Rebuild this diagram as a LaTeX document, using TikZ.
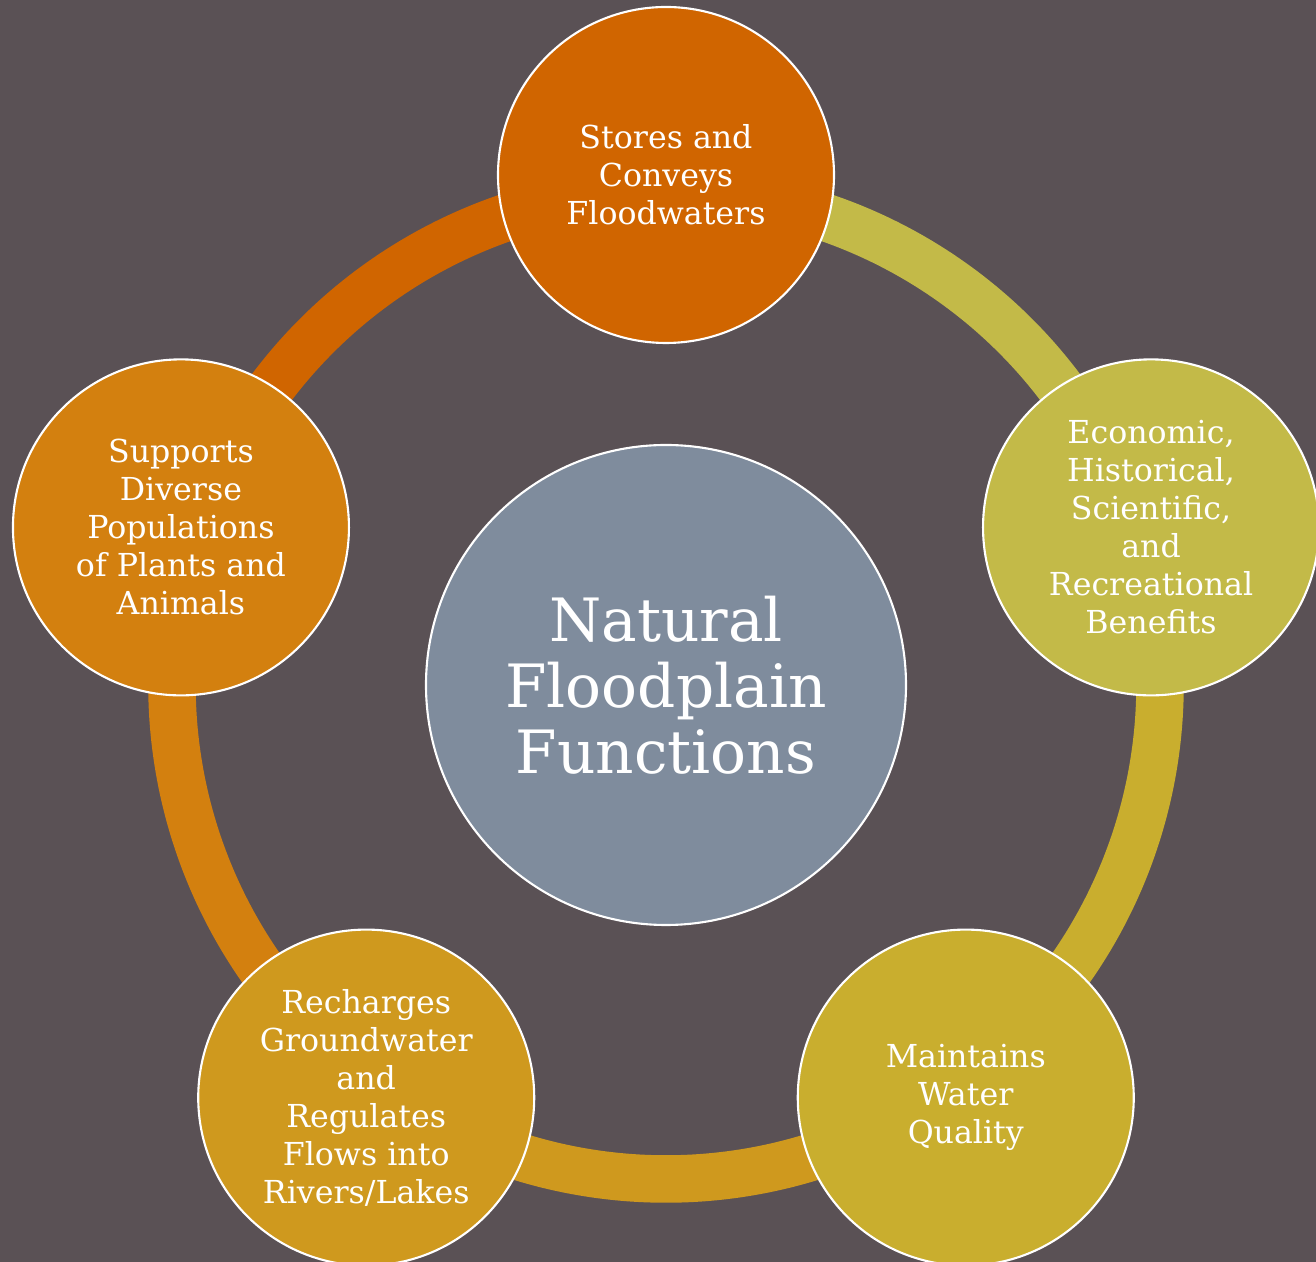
\documentclass[tikz,border=0pt]{standalone}
\usepackage{fontspec}
\setmainfont{DejaVu Serif}
\definecolor{bgc}{HTML}{5A5155}
\definecolor{hubc}{HTML}{7F8C9D}
\definecolor{c1}{HTML}{D06500}
\definecolor{c2}{HTML}{C3BA48}
\definecolor{c3}{HTML}{C9AE2E}
\definecolor{c4}{HTML}{CF991E}
\definecolor{c5}{HTML}{D3800F}

\begin{document}
\begin{tikzpicture}[band/.style={line width=0.95cm},
                    leaf/.style={draw=white,
                      line width=1.2pt,
                      circle,
                      minimum size=6.72cm,
                      inner sep=0pt,
                      text=white,
                      align=center,
                      font=\fontsize{18}{21.6}\selectfont},
                    core/.style={leaf,
                      minimum size=9.6cm,
                      fill=hubc,
                      font=\fontsize{34}{37.5}\selectfont}]
\fill[bgc] (-13.32,-11.54) rectangle (13.00,13.70);
\useasboundingbox (-13.32,-11.54) rectangle (13.00,13.70);
\coordinate (hub) at (0,0);
% ring
\draw[band, c2] (hub) ++(90:9.88) arc[start angle=90, end angle=18, radius=9.88];
\draw[band, c3] (hub) ++(18:9.88) arc[start angle=18, end angle=-54, radius=9.88];
\draw[band, c4] (hub) ++(-54:9.88) arc[start angle=-54, end angle=-126, radius=9.88];
\draw[band, c5] (hub) ++(-126:9.88) arc[start angle=-126, end angle=-198, radius=9.88];
\draw[band, c1] (hub) ++(162:9.88) arc[start angle=162, end angle=90, radius=9.88];
% circles
\node[core] (main) at (hub) {Natural\\Floodplain\\Functions};
\node[leaf, fill=c1] (store) at (90:10.2) {Stores and\\Conveys\\Floodwaters};
\node[leaf, fill=c2] (benefit) at (18:10.2) {Economic,\\Historical,\\Scientific,\\and\\Recreational\\Benefits};
\node[leaf, fill=c3] (quality) at (-54:10.2) {Maintains\\Water\\Quality};
\node[leaf, fill=c4] (recharge) at (-126:10.2) {Recharges\\Groundwater\\and\\Regulates\\Flows into\\Rivers/Lakes};
\node[leaf, fill=c5] (habitat) at (162:10.2) {Supports\\Diverse\\Populations\\of Plants and\\Animals};
\end{tikzpicture}
\end{document}
